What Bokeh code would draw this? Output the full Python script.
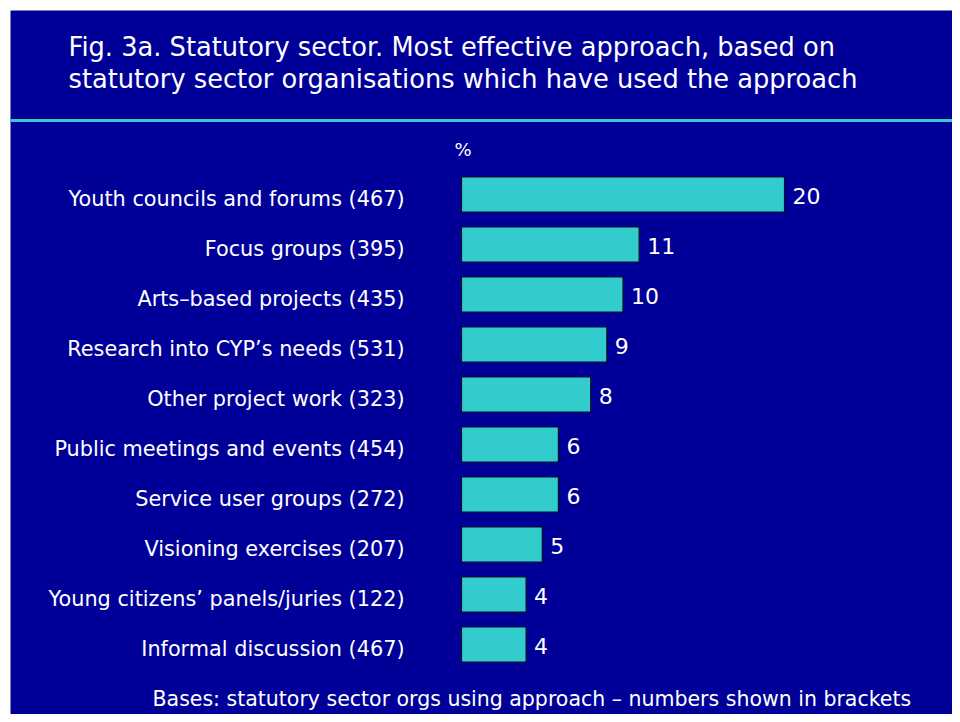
from bokeh.plotting import figure
from bokeh.models import Range1d, Label, Span, ColumnDataSource
from bokeh.core.properties import value
from bokeh.embed import file_html
from bokeh.resources import INLINE

# ---- data ----
approaches = ["Youth councils and forums", "Focus groups", "Arts–based projects",
              "Research into CYP’s needs", "Other project work",
              "Public meetings and events", "Service user groups",
              "Visioning exercises", "Young citizens’ panels/juries",
              "Informal discussion"]
bases = [467, 395, 435, 531, 323, 454, 272, 207, 122, 467]
values = [20, 11, 10, 9, 8, 6, 6, 5, 4, 4]
title_lines = ["Fig. 3a. Statutory sector. Most effective approach, based on",
               "statutory sector organisations which have used the approach"]
unit_label = "%"
footnote = "Bases: statutory sector orgs using approach – numbers shown in brackets"

# ---- layout constants (positions given in picture pixels) ----
W, H = 952, 714
BG = "#000099"
CYAN = "#33CCCC"
FONT = "DejaVu Sans"
OFF = 1               # picture px of canvas origin
BORDER = 10           # white border left/top of the blue panel
FW, FH = W - BORDER, H - BORDER
PX_PER_X = 16.15      # pixels per percent
BASE_X = 462          # picture px of bar baseline
ROW_PX = 50           # pixels per category row
FIRST_ROW = 195       # picture px of first bar centre

fx0 = BASE_X - OFF - BORDER
fy0 = FIRST_ROW - OFF - BORDER
x0 = -fx0 / PX_PER_X
x1 = (FW - fx0) / PX_PER_X
y_top = -fy0 / ROW_PX
y_bot = (FH - fy0) / ROW_PX


def dx(px):
    return x0 + (px - OFF - BORDER) / PX_PER_X


def dy(py):
    return y_top + (py - OFF - BORDER) / ROW_PX


labels = [f"{a} ({b})" for a, b in zip(approaches, bases)]
rows = list(range(len(values)))
src = ColumnDataSource(dict(row=rows, val=values, lab=labels,
                            vtxt=[str(v) for v in values]))

p = figure(width=W, height=H, output_backend="svg", toolbar_location=None,
           x_range=Range1d(x0, x1), y_range=Range1d(y_bot, y_top),
           min_border_left=BORDER, min_border_top=BORDER,
           min_border_right=0, min_border_bottom=0)
p.axis.visible = False
p.grid.visible = False
p.outline_line_color = None
p.background_fill_color = BG
p.border_fill_color = "white"

p.hbar(y="row", left=0, right="val", height=0.7, source=src,
       fill_color=CYAN, line_color="#001122", line_width=1.2)

p.text(x=0, y="row", text="lab", source=src, x_offset=-57, y_offset=4,
       text_align="right", text_baseline="middle", text_color="white",
       text_font=value(FONT), text_font_size="20.8px")

p.text(x="val", y="row", text="vtxt", source=src, x_offset=8, y_offset=1,
       text_align="left", text_baseline="middle", text_color="white",
       text_font=value(FONT), text_font_size="22px")

for i, line in enumerate(title_lines):
    p.add_layout(Label(x=dx(69), y=dy(47 + 32 * i), text=line,
                       text_color="white", text_font=FONT,
                       text_font_size="25.7px", text_baseline="middle",
                       text_align="left"))

p.add_layout(Span(location=dy(121), dimension="width", line_color=CYAN,
                  line_width=3))

p.add_layout(Label(x=dx(455), y=dy(150), text=unit_label, text_color="white",
                   text_font=FONT, text_font_size="18px",
                   text_baseline="middle", text_align="left"))

p.add_layout(Label(x=dx(153), y=dy(699), text=footnote, text_color="white",
                   text_font=FONT, text_font_size="20.5px",
                   text_baseline="middle", text_align="left"))

open("out.html", "w").write(file_html(p, INLINE))
